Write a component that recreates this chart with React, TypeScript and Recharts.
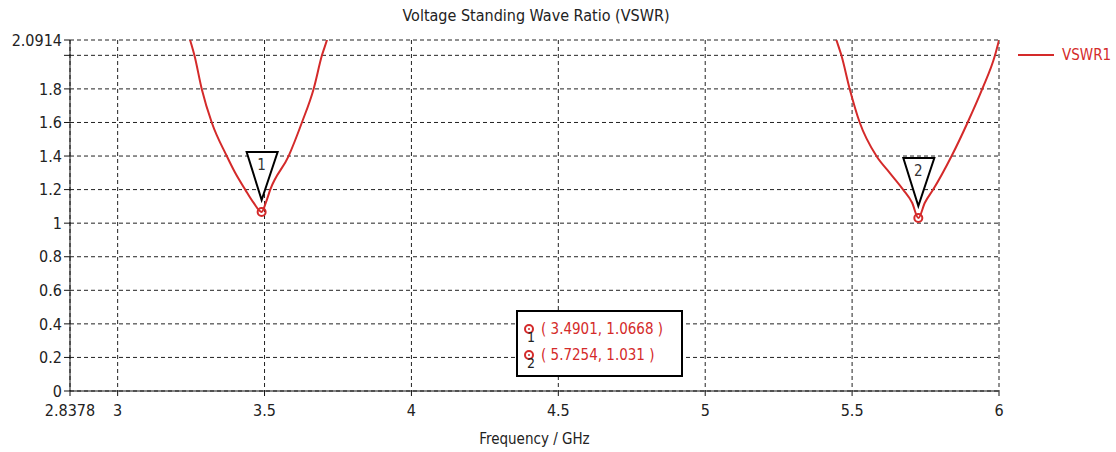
import React from 'react';
import { ComposedChart, Line, Scatter, XAxis, YAxis, CartesianGrid } from 'recharts';

const freqs: (number)[] = [3.229, 3.2466, 3.2613, 3.2862, 3.3203, 3.3714, 3.400, 3.4342, 3.4625, 3.4901, 3.5044, 3.5194, 3.5819, 3.6272, 3.6671, 3.6954, 3.7125, 3.73,
  4.6,
  5.427, 5.4465, 5.4635, 5.4918, 5.5259, 5.5828, 5.628, 5.6736, 5.7043, 5.7254, 5.7476, 5.7759, 5.8387, 5.8932, 5.9431, 5.9864, 6.0];
const vswr: (number | null)[] = [2.2, 2.0914, 2.0, 1.8, 1.6, 1.4, 1.3, 1.2, 1.122, 1.0668, 1.122, 1.2, 1.4, 1.6, 1.8, 2.0, 2.0914, 2.2,
  null,
  2.2, 2.0914, 2.0, 1.8, 1.6, 1.4, 1.3, 1.2, 1.122, 1.031, 1.122, 1.2, 1.4, 1.6, 1.8, 2.0, 2.09];

const markerIds = ['1', '2'];
const markerFreqs = [3.4901, 5.7254];
const markerVals = [1.0668, 1.031];

const xTicks = [2.8378, 3, 3.5, 4, 4.5, 5, 5.5, 6];
const yTicks = [0, 0.2, 0.4, 0.6, 0.8, 1, 1.2, 1.4, 1.6, 1.8, 2, 2.0914];

const data = freqs.map((f, i) => ({ f, v: vswr[i] }));
const markers = markerFreqs.map((f, i) => ({ f, m: markerVals[i], id: markerIds[i] }));

const RED = '#d42a2a';
const FONT = '"DejaVu Sans Condensed", "Liberation Sans Narrow", "DejaVu Sans", sans-serif';

const MarkerShape = (props: any) => {
  const { cx, cy, payload } = props;
  if (cx == null || cy == null) return null;
  const tri = `${cx - 15},${cy - 60} ${cx + 16},${cy - 60} ${cx},${cy - 12}`;
  return (
    <g>
      <polygon points={tri} fill="#fff" stroke="#000" strokeWidth={2} />
      <text x={cx} y={cy - 42} textAnchor="middle" fontFamily={FONT} fontSize={15} fill="#333">{payload.id}</text>
      <circle cx={cx} cy={cy} r={4} fill="none" stroke={RED} strokeWidth={2} />
    </g>
  );
};

const yFmt = (v: number) => (v === 2 ? '' : String(v));

const Icon = () => (
  <svg width={12} height={12} style={{ display: 'block' }}>
    <circle cx={6} cy={6} r={4} fill="none" stroke={RED} strokeWidth={2} />
    <circle cx={6} cy={6} r={1} fill={RED} />
  </svg>
);

export default function App() {
  return (
    <div style={{ position: 'absolute', left: 0, top: 0, width: 1116, height: 452, background: '#fff', overflow: 'hidden' }}>
      <div style={{ position: 'absolute', left: 0, top: 6, width: 1072, textAlign: 'center', fontFamily: FONT, fontSize: 16, color: '#222' }}>
        Voltage Standing Wave Ratio (VSWR)
      </div>
      <ComposedChart width={1116} height={452} data={data} margin={{ top: 40, right: 117, bottom: 0, left: 0 }}>
        <CartesianGrid xAxisId="b" yAxisId="l" stroke="#222" strokeDasharray="4 3" />
        <XAxis xAxisId="b" dataKey="f" type="number" domain={[2.8378, 6]} ticks={xTicks} allowDataOverflow
          height={61} stroke="#111" tickSize={5} tickMargin={9}
          tick={{ fontFamily: FONT, fontSize: 16, fill: '#222' }}
          label={{ value: 'Frequency / GHz', position: 'insideBottom', offset: 8, style: { fontFamily: FONT, fontSize: 15, fill: '#222' } }} />
        <XAxis xAxisId="t" orientation="top" dataKey="f" type="number" domain={[2.8378, 6]} height={0} tick={false} tickLine={false} stroke="#111" />
        <YAxis yAxisId="l" type="number" domain={[0, 2.0914]} ticks={yTicks} allowDataOverflow width={70}
          stroke="#111" tickSize={6} tickFormatter={yFmt}
          tick={{ fontFamily: FONT, fontSize: 16, fill: '#222' }} />
        <YAxis yAxisId="r" orientation="right" type="number" domain={[0, 2.0914]} width={0} tick={false} tickLine={false} stroke="#111" />
        <Line xAxisId="b" yAxisId="l" dataKey="v" type="monotone" stroke={RED} strokeWidth={2} dot={false}
          isAnimationActive={false} connectNulls={false} />
        <Scatter xAxisId="b" yAxisId="l" data={markers} dataKey="m" shape={MarkerShape} isAnimationActive={false} />
      </ComposedChart>
      <div style={{ position: 'absolute', left: 1018, top: 46, display: 'flex', alignItems: 'center', fontFamily: FONT, fontSize: 15, color: RED }}>
        <svg width={36} height={4}><line x1={0} y1={2} x2={36} y2={2} stroke={RED} strokeWidth={2} /></svg>
        <span style={{ marginLeft: 8 }}>VSWR1</span>
      </div>
      <div style={{ position: 'absolute', left: 516, top: 310, width: 163, height: 63, border: '2px solid #000', background: '#fff', fontFamily: FONT, fontSize: 15, color: RED }}>
        {markers.map((m, i) => (
          <div key={m.id} style={{ position: 'absolute', left: 5, top: 8 + i * 26, display: 'flex', alignItems: 'flex-start' }}>
            <div style={{ position: 'relative', width: 16, height: 22 }}>
              <div style={{ position: 'absolute', left: 0, top: 3 }}><Icon /></div>
              <div style={{ position: 'absolute', left: 4, top: 9, color: '#222', fontSize: 14 }}>{m.id}</div>
            </div>
            <span style={{ marginLeft: 2 }}>{`( ${m.f}, ${m.m} )`}</span>
          </div>
        ))}
      </div>
    </div>
  );
}
